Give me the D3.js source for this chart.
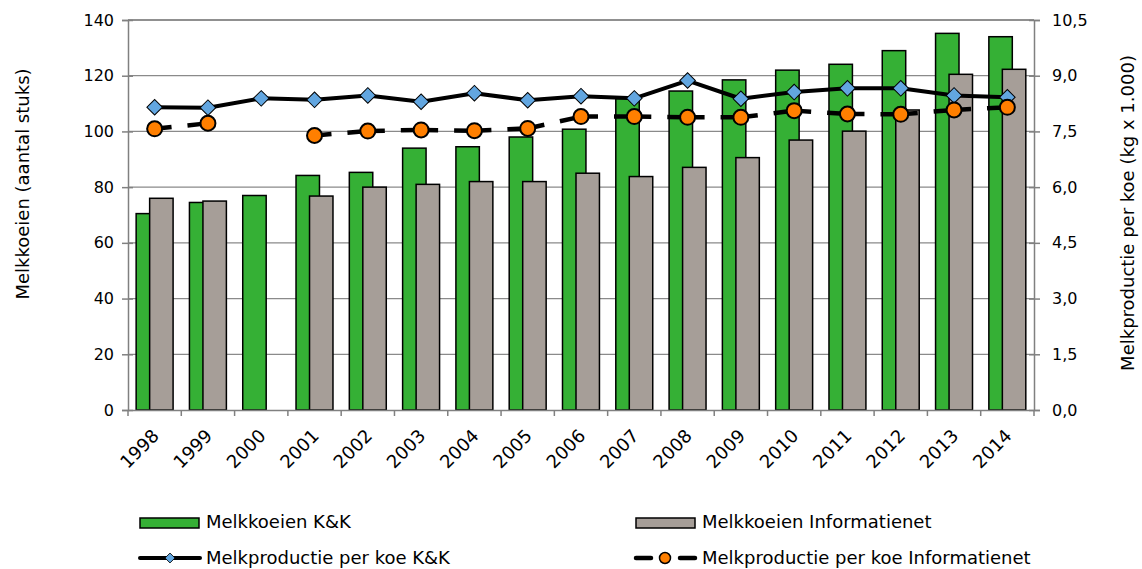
<!DOCTYPE html>
<html>
<head>
<meta charset="utf-8">
<script src="https://cdn.jsdelivr.net/npm/d3@7"></script>
<style>
  body { margin: 0; background: #fff; }
  text { font-family: "DejaVu Sans", Verdana, sans-serif; fill: #000; }
</style>
</head>
<body>
<div id="chart"></div>
<script>
// data
var years = ["1998","1999","2000","2001","2002","2003","2004","2005","2006","2007","2008","2009","2010","2011","2012","2013","2014"];
var koeienKK = [70.5, 74.5, 77, 84.2, 85.3, 94, 94.5, 98, 100.8, 111.8, 114.5, 118.5, 122, 124.1, 129, 135.2, 134];
var koeienInfo = [76, 75, null, 76.8, 80, 81, 82, 82, 85, 83.8, 87.1, 90.6, 96.9, 100.1, 107.7, 120.5, 122.3];
var prodKK = [8.15, 8.14, 8.39, 8.35, 8.47, 8.30, 8.53, 8.34, 8.45, 8.39, 8.87, 8.38, 8.56, 8.66, 8.66, 8.47, 8.42];
var prodInfo = [7.57, 7.72, null, 7.39, 7.51, 7.54, 7.52, 7.58, 7.90, 7.90, 7.88, 7.88, 8.06, 7.97, 7.96, 8.08, 8.15];
var leftTicks = [0, 20, 40, 60, 80, 100, 120, 140];
var rightTicks = [0, 1.5, 3, 4.5, 6, 7.5, 9, 10.5];

var green = "#35b035", grey = "#a69e98", blue = "#62a6e0", orange = "#ff7f00";

var W = 1142, H = 569;
var margin = {top: 20, right: 108, bottom: 159, left: 128};
var width = W - margin.left - margin.right,
    height = H - margin.top - margin.bottom;

var svg = d3.select("#chart").append("svg")
    .attr("width", W)
    .attr("height", H)
  .append("g")
    .attr("transform", "translate(" + margin.left + "," + margin.top + ")");

var x = d3.scaleBand().domain(years).range([0, width]).padding(0);
var yL = d3.scaleLinear().domain([0, 140]).range([height, 0]);
var yR = d3.scaleLinear().domain([0, 10.5]).range([height, 0]);
var bw = x.bandwidth() * 0.44;

// pair each value with its year, drop the gaps
function withYears(arr) {
  return arr.map(function(v, i) { return {year: years[i], v: v}; });
}
function cx(d) { return x(d.year) + x.bandwidth() / 2; }

// gridlines
svg.selectAll(".grid")
  .data(leftTicks.filter(function(d) { return d > 0; }))
  .enter().append("line")
    .attr("class", "grid")
    .attr("x1", 0).attr("x2", width)
    .attr("y1", function(d) { return yL(d); })
    .attr("y2", function(d) { return yL(d); })
    .attr("stroke", function(d) { return d == 140 ? "#222" : "#8a8a8a"; })
    .attr("stroke-width", 1.2);

// bars
svg.selectAll(".barKK")
  .data(withYears(koeienKK))
  .enter().append("rect")
    .attr("class", "barKK")
    .attr("x", function(d) { return cx(d) - 18.5; })
    .attr("y", function(d) { return yL(d.v); })
    .attr("width", bw)
    .attr("height", function(d) { return height - yL(d.v); })
    .attr("fill", green)
    .attr("stroke", "#000")
    .attr("stroke-width", 1.5);

svg.selectAll(".barInfo")
  .data(withYears(koeienInfo).filter(function(d) { return d.v != null; }))
  .enter().append("rect")
    .attr("class", "barInfo")
    .attr("x", function(d) { return cx(d) - 5; })
    .attr("y", function(d) { return yL(d.v); })
    .attr("width", bw)
    .attr("height", function(d) { return height - yL(d.v); })
    .attr("fill", grey)
    .attr("stroke", "#000")
    .attr("stroke-width", 1.5);

// axes
var axL = d3.axisLeft(yL).tickValues(leftTicks).tickSize(6).tickPadding(8);
var gL = svg.append("g").call(axL);
var axR = d3.axisRight(yR).tickValues(rightTicks).tickSize(6).tickPadding(12)
  .tickFormat(function(d) { return d3.format(".1f")(d).replace(".", ","); });
var gR = svg.append("g").attr("transform", "translate(" + width + ",0)").call(axR);
var axB = d3.axisBottom(x).tickValues([]).tickSizeOuter(0);
var gB = svg.append("g").attr("transform", "translate(0," + height + ")").call(axB);

[gL, gR, gB].forEach(function(g) {
  g.select(".domain").attr("stroke", "#808080").attr("stroke-width", 1.5);
  g.selectAll(".tick line").attr("stroke", "#808080").attr("stroke-width", 1.5);
  g.selectAll("text").style("font-size", "16px").attr("fill", "#000");
});
gL.selectAll(".tick line").attr("x2", -6).attr("x1", 5);
gR.selectAll(".tick line").attr("x1", -5);

// category boundary ticks on x axis
gB.selectAll(".xt")
  .data(years.concat(["end"]))
  .enter().append("line")
    .attr("x1", function(d, i) { return i * x.step(); })
    .attr("x2", function(d, i) { return i * x.step(); })
    .attr("y1", 0).attr("y2", 6)
    .attr("stroke", "#808080").attr("stroke-width", 1.5);

gB.selectAll(".xl")
  .data(years)
  .enter().append("text")
    .attr("text-anchor", "end")
    .style("font-size", "18px")
    .attr("transform", function(d) {
      return "translate(" + (x(d) + x.bandwidth() / 2 + 5.5) + ",27) rotate(-45)";
    })
    .text(function(d) { return d; });

// axis titles
svg.append("text")
  .attr("transform", "translate(-99,164) rotate(-90)")
  .attr("text-anchor", "middle")
  .style("font-size", "18px")
  .text("Melkkoeien (aantal stuks)");

svg.append("text")
  .attr("transform", "translate(" + (width + 100) + ",193) rotate(-90)")
  .attr("text-anchor", "middle")
  .style("font-size", "18px")
  .text("Melkproductie per koe (kg x 1.000)");

// lines
var lineKK = d3.line()
  .x(cx)
  .y(function(d) { return yR(d.v); });

svg.append("path")
  .datum(withYears(prodKK))
  .attr("fill", "none")
  .attr("stroke", "#000")
  .attr("stroke-width", 4)
  .attr("stroke-linejoin", "round")
  .attr("d", lineKK);

// dashed Informatienet line, one piece per pair so the dash restarts like Excel does
var segs = d3.pairs(withYears(prodInfo)).filter(function(p) {
  return p[0].v != null && p[1].v != null;
});
svg.selectAll(".segInfo")
  .data(segs)
  .enter().append("line")
    .attr("class", "segInfo")
    .attr("x1", function(p) { return cx(p[0]); })
    .attr("y1", function(p) { return yR(p[0].v); })
    .attr("x2", function(p) { return cx(p[1]); })
    .attr("y2", function(p) { return yR(p[1].v); })
    .attr("stroke", "#000")
    .attr("stroke-width", 4.5)
    .attr("stroke-dasharray", "17,16");

svg.selectAll(".dia")
  .data(withYears(prodKK))
  .enter().append("path")
    .attr("class", "dia")
    .attr("transform", function(d) { return "translate(" + cx(d) + "," + yR(d.v) + ") rotate(45)"; })
    .attr("d", "M-5.5,-5.5H5.5V5.5H-5.5Z")
    .attr("fill", blue)
    .attr("stroke", "#000")
    .attr("stroke-width", 1);

svg.selectAll(".dot")
  .data(withYears(prodInfo).filter(function(d) { return d.v != null; }))
  .enter().append("circle")
    .attr("class", "dot")
    .attr("cx", cx)
    .attr("cy", function(d) { return yR(d.v); })
    .attr("r", 7.5)
    .attr("fill", orange)
    .attr("stroke", "#000")
    .attr("stroke-width", 2);

// legend
var leg = d3.select("svg").append("g").style("font-size", "18px");

leg.append("rect").attr("x", 140).attr("y", 518).attr("width", 59).attr("height", 10)
  .attr("fill", green).attr("stroke", "#000").attr("stroke-width", 1.5);
leg.append("text").attr("x", 206).attr("y", 528).text("Melkkoeien K&K");

leg.append("rect").attr("x", 636).attr("y", 518).attr("width", 59).attr("height", 10)
  .attr("fill", grey).attr("stroke", "#000").attr("stroke-width", 1.5);
leg.append("text").attr("x", 702).attr("y", 528).text("Melkkoeien Informatienet");

leg.append("line").attr("x1", 140).attr("x2", 200).attr("y1", 558).attr("y2", 558)
  .attr("stroke", "#000").attr("stroke-width", 4).attr("stroke-linecap", "round");
leg.append("path").attr("transform", "translate(170,558) rotate(45)")
  .attr("d", "M-3.5,-3.5H3.5V3.5H-3.5Z").attr("fill", blue).attr("stroke", "#000").attr("stroke-width", 0.8);
leg.append("text").attr("x", 206).attr("y", 564).text("Melkproductie per koe K&K");

leg.append("line").attr("x1", 636).attr("x2", 651).attr("y1", 558).attr("y2", 558)
  .attr("stroke", "#000").attr("stroke-width", 4.5).attr("stroke-linecap", "round");
leg.append("line").attr("x1", 680).attr("x2", 695).attr("y1", 558).attr("y2", 558)
  .attr("stroke", "#000").attr("stroke-width", 4.5).attr("stroke-linecap", "round");
leg.append("circle").attr("cx", 665).attr("cy", 558).attr("r", 5.5)
  .attr("fill", orange).attr("stroke", "#000").attr("stroke-width", 1.5);
leg.append("text").attr("x", 702).attr("y", 564).text("Melkproductie per koe Informatienet");
</script>
</body>
</html>
